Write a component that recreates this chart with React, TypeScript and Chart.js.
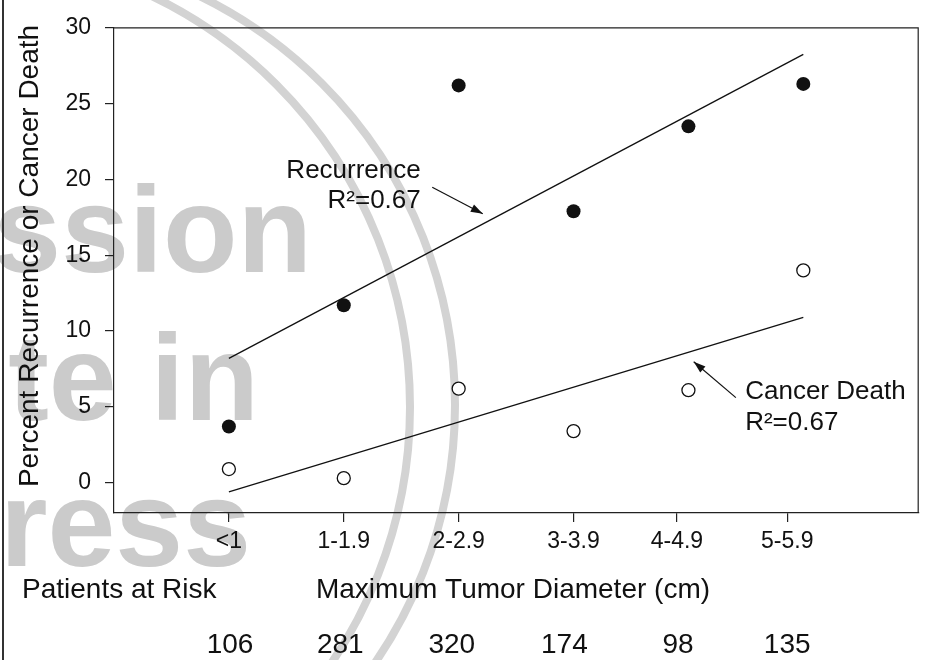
import React, { useEffect, useRef } from "react";
import { Chart, registerables } from "chart.js";

Chart.register(...registerables);

const FONT = "Arial, 'Liberation Sans', Helvetica, sans-serif";

// ---- data ----
const categories = ["<1", "1-1.9", "2-2.9", "3-3.9", "4-4.9", "5-5.9"];
const categoryX = [1, 2, 3, 4, 5, 6];
const tickPositions = [1, 2, 3, 4, 4.9, 5.86];
const recurrence = [3.7, 11.7, 26.2, 17.9, 23.5, 26.3];
const cancerDeath = [0.9, 0.3, 6.2, 3.4, 6.1, 14.0];
const fitX = [1, 6];
const recurrenceFit = [8.2, 28.25];
const cancerDeathFit = [-0.6, 10.9];
const patientsAtRisk = [106, 281, 320, 174, 98, 135];
const riskPositions = [1.01, 1.97, 2.94, 3.92, 4.91, 5.86];
const yTicks = [0, 5, 10, 15, 20, 25, 30];

// annotation anchors (data units)
const recurrenceLabel = { x: 2.67, y: [20.58, 18.58], text: ["Recurrence", "R\u00B2=0.67"] };
const recurrenceArrow = { from: [2.77, 19.48], to: [3.21, 17.74] };
const deathLabel = { x: 5.494, y: [5.97, 3.97], text: ["Cancer Death", "R\u00B2=0.67"] };
const deathArrow = { from: [5.413, 5.61], to: [5.046, 7.98] };

function drawArrow(c: CanvasRenderingContext2D, x1: number, y1: number, x2: number, y2: number) {
  c.beginPath();
  c.moveTo(x1, y1);
  c.lineTo(x2, y2);
  c.stroke();
  const ang = Math.atan2(y2 - y1, x2 - x1);
  const len = 12;
  const w = 4;
  const bx = x2 - len * Math.cos(ang);
  const by = y2 - len * Math.sin(ang);
  c.beginPath();
  c.moveTo(x2, y2);
  c.lineTo(bx + w * Math.sin(ang), by - w * Math.cos(ang));
  c.lineTo(bx - w * Math.sin(ang), by + w * Math.cos(ang));
  c.closePath();
  c.fill();
}

const extras = {
  id: "extras",
  beforeDraw(chart: any) {
    const c: CanvasRenderingContext2D = chart.ctx;
    c.save();
    c.fillStyle = "#fff";
    c.fillRect(0, 0, chart.width, chart.height);
    // watermark (light grey stamp)
    c.strokeStyle = "#d3d3d3";
    c.lineWidth = 8;
    c.beginPath();
    c.arc(-46, 407, 456, -Math.PI / 2, Math.PI / 2);
    c.stroke();
    c.beginPath();
    c.arc(0, 405, 455, -Math.PI / 2, Math.PI / 2);
    c.stroke();
    c.fillStyle = "#cbcbcb";
    c.font = `bold 122px ${FONT}`;
    c.textAlign = "right";
    c.textBaseline = "alphabetic";
    c.fillText("ssion", 312, 272);
    c.fillText("te in", 259, 420);
    c.fillText("ress", 251, 566);
    // page border
    c.strokeStyle = "#333";
    c.lineWidth = 2;
    c.beginPath();
    c.moveTo(3, 0);
    c.lineTo(3, chart.height);
    c.stroke();
    c.restore();
  },
  afterDraw(chart: any) {
    const c: CanvasRenderingContext2D = chart.ctx;
    const a = chart.chartArea;
    const xs = chart.scales.x;
    const ys = chart.scales.y;
    c.save();
    // frame top/right
    c.strokeStyle = "#222";
    c.lineWidth = 1.2;
    c.beginPath();
    c.moveTo(a.left, a.top);
    c.lineTo(a.right, a.top);
    c.lineTo(a.right, a.bottom);
    c.stroke();

    c.fillStyle = "#111";
    c.strokeStyle = "#111";
    c.lineWidth = 1.2;
    // annotations
    c.font = `26px ${FONT}`;
    c.textBaseline = "middle";
    c.textAlign = "right";
    recurrenceLabel.text.forEach((t, i) =>
      c.fillText(t, xs.getPixelForValue(recurrenceLabel.x), ys.getPixelForValue(recurrenceLabel.y[i]))
    );
    c.textAlign = "left";
    deathLabel.text.forEach((t, i) =>
      c.fillText(t, xs.getPixelForValue(deathLabel.x), ys.getPixelForValue(deathLabel.y[i]))
    );
    [recurrenceArrow, deathArrow].forEach((ar) =>
      drawArrow(
        c,
        xs.getPixelForValue(ar.from[0]),
        ys.getPixelForValue(ar.from[1]),
        xs.getPixelForValue(ar.to[0]),
        ys.getPixelForValue(ar.to[1])
      )
    );

    // titles
    c.font = `28px ${FONT}`;
    c.textAlign = "center";
    c.fillText("Maximum Tumor Diameter (cm)", 513, 590);
    c.textAlign = "left";
    c.fillText("Patients at Risk", 22, 590);
    c.textAlign = "center";
    patientsAtRisk.forEach((n, i) => c.fillText(String(n), xs.getPixelForValue(riskPositions[i]), 645));
    c.save();
    c.translate(30, 256);
    c.rotate(-Math.PI / 2);
    c.fillText("Percent Recurrence or Cancer Death", 0, 0);
    c.restore();
    c.restore();
  },
};

export default function App() {
  const ref = useRef<HTMLCanvasElement>(null);
  useEffect(() => {
    document.body.style.margin = "0";
    const canvas = ref.current!;
    const axisCommon = {
      grid: { display: true, drawOnChartArea: false, drawTicks: true, tickLength: 9, color: "#222", lineWidth: 1.2 },
      border: { display: true, color: "#222", width: 1.2 },
    };
    const chart = new Chart(canvas, {
      type: "scatter",
      data: {
        datasets: [
          {
            label: "Recurrence",
            data: categoryX.map((x, i) => ({ x, y: recurrence[i] })),
            pointStyle: "circle",
            pointRadius: 7,
            pointBackgroundColor: "#111",
            pointBorderWidth: 0,
            showLine: false,
          },
          {
            label: "Cancer Death",
            data: categoryX.map((x, i) => ({ x, y: cancerDeath[i] })),
            pointStyle: "circle",
            pointRadius: 6.5,
            pointBackgroundColor: "#fff",
            pointBorderColor: "#111",
            pointBorderWidth: 1.3,
            showLine: false,
          },
          {
            label: "Recurrence fit",
            data: fitX.map((x, i) => ({ x, y: recurrenceFit[i] })),
            showLine: true,
            pointRadius: 0,
            borderColor: "#111",
            borderWidth: 1.3,
          },
          {
            label: "Cancer Death fit",
            data: fitX.map((x, i) => ({ x, y: cancerDeathFit[i] })),
            showLine: true,
            pointRadius: 0,
            borderColor: "#111",
            borderWidth: 1.3,
          },
        ],
      },
      options: {
        responsive: false,
        animation: false,
        layout: { padding: { left: 0, top: 17, right: 6, bottom: 0 } },
        plugins: { legend: { display: false }, tooltip: { enabled: false } },
        scales: {
          x: {
            type: "linear",
            min: 0,
            max: 7,
            afterBuildTicks: (s: any) => {
              s.ticks = tickPositions.map((v) => ({ value: v }));
            },
            afterFit: (s: any) => {
              s.height = 147;
            },
            ticks: {
              callback: (_v: any, i: number) => categories[i],
              font: { family: FONT, size: 23 },
              color: "#111",
              padding: 6,
              maxRotation: 0,
              autoSkip: false,
            },
            ...axisCommon,
          },
          y: {
            type: "linear",
            min: -2,
            max: 30,
            afterBuildTicks: (s: any) => {
              s.ticks = yTicks.map((v) => ({ value: v }));
            },
            afterFit: (s: any) => {
              s.width = 114;
            },
            ticks: {
              font: { family: FONT, size: 23 },
              color: "#111",
              padding: 14,
            },
            ...axisCommon,
          },
        },
      },
      plugins: [extras],
    } as any);
    return () => chart.destroy();
  }, []);
  return (
    <div style={{ position: "absolute", left: 0, top: 0, width: 926, height: 660, background: "#fff" }}>
      <canvas ref={ref} width={926} height={660} style={{ display: "block", width: 926, height: 660 }} />
    </div>
  );
}
